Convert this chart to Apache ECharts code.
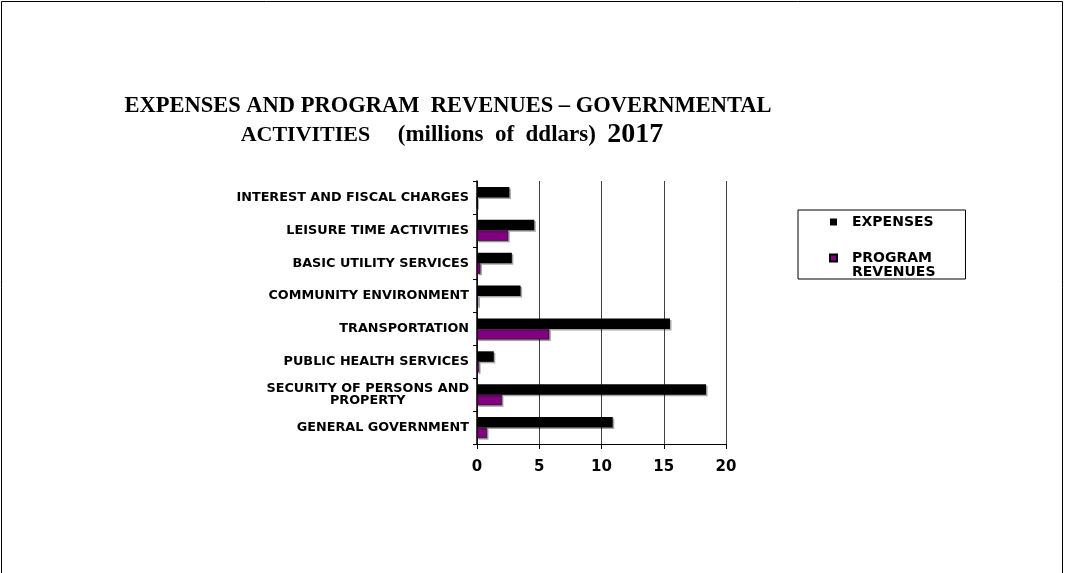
<!DOCTYPE html>
<html><head><meta charset="utf-8">
<script src="https://cdn.jsdelivr.net/npm/echarts@6/dist/echarts.min.js"></script>
<style>html,body{margin:0;padding:0;background:#fff}#c{width:1065px;height:573px}</style>
</head><body><div id="c"></div>
<script>
const categories = ['GENERAL GOVERNMENT','SECURITY OF PERSONS AND\nPROPERTY','PUBLIC HEALTH SERVICES','TRANSPORTATION','COMMUNITY ENVIRONMENT','BASIC UTILITY SERVICES','LEISURE TIME ACTIVITIES','INTEREST AND FISCAL CHARGES'];
const expenses = [10.9, 18.4, 1.35, 15.5, 3.5, 2.8, 4.6, 2.6];
const programRevenues = [0.8, 2.0, 0.16, 5.8, 0.1, 0.27, 2.5, 0];
const xTicks = [0, 5, 10, 15, 20];

const chart = echarts.init(document.getElementById('c'));
const sans = 'DejaVu Sans, Arial';
const serif = 'Liberation Serif, Times New Roman';
chart.setOption({
  animation:false,
  backgroundColor:'#fff',
  graphic:[{type:'rect', shape:{x:1.5,y:1.5,width:1061,height:620}, style:{fill:'none',stroke:'#000',lineWidth:1}, silent:true}],
  title:[
    {text:'EXPENSES AND PROGRAM  REVENUES – GOVERNMENTAL', left:443, top:90, textAlign:'center',
     textStyle:{fontFamily:serif, fontWeight:'bold', fontSize:22.5, color:'#000'}},
    {text:'{a|ACTIVITIES     }{m|(millions  of  ddlars)  }{b|2017}', left:447, top:116, textAlign:'center',
     textStyle:{rich:{a:{fontFamily:serif, fontWeight:'bold', fontSize:22, color:'#000'},
                      m:{fontFamily:serif, fontWeight:'bold', fontSize:23, color:'#000'},
                      b:{fontFamily:serif, fontWeight:'bold', fontSize:28, color:'#000'}}}}
  ],
  legend:{
    data:['EXPENSES','PROGRAM\nREVENUES'],
    formatter:(n)=> n.indexOf('\n')>=0 ? '\n'+n : n,
    orient:'vertical', left:798, top:210,
    padding:[5,30,0,31], itemGap:8, itemWidth:7, itemHeight:7, icon:'rect',
    borderColor:'#000', borderWidth:1,
    textStyle:{fontFamily:sans, fontWeight:'bold', fontSize:14, color:'#000', lineHeight:14, padding:[0,0,0,10]}
  },
  grid:{left:477, right:339, top:181, bottom:129, containLabel:false},
  xAxis:{type:'value', min:0, max:20, interval:5,
    axisLine:{show:true, lineStyle:{color:'#000', width:1}},
    axisTick:{show:true, length:5, lineStyle:{color:'#000'}},
    axisLabel:{margin:16, fontFamily:sans, fontWeight:'bold', fontSize:15, color:'#000',
      formatter:(v)=> xTicks.includes(v) ? String(v) : ''},
    splitLine:{show:true, lineStyle:{color:'#404040', width:1}}},
  yAxis:{type:'category', data:categories,
    axisLine:{show:true, lineStyle:{color:'#000', width:1.5}},
    axisTick:{show:true, length:4, lineStyle:{color:'#000'}},
    axisLabel:{margin:8, formatter:(v)=> v.split('\n').map(s=>'{c|'+s+'}').join('\n'),
      rich:{c:{align:'center', lineHeight:12, fontFamily:sans, fontWeight:'bold', fontSize:12.8, color:'#000'}}}},
  series:[
    {name:'EXPENSES', type:'bar', data:expenses, barWidth:10.5, barGap:'0%',
     itemStyle:{color:'#000', shadowColor:'rgba(0,0,0,0.35)', shadowOffsetX:1.5, shadowOffsetY:1.5}},
    {name:'PROGRAM\nREVENUES', type:'bar', data:programRevenues, barWidth:10.5, barGap:'0%',
     itemStyle:{color:'#800080', borderColor:'#000', borderWidth:0.5, shadowColor:'rgba(0,0,0,0.35)', shadowOffsetX:1.5, shadowOffsetY:1.5}}
  ]
});
</script></body></html>
